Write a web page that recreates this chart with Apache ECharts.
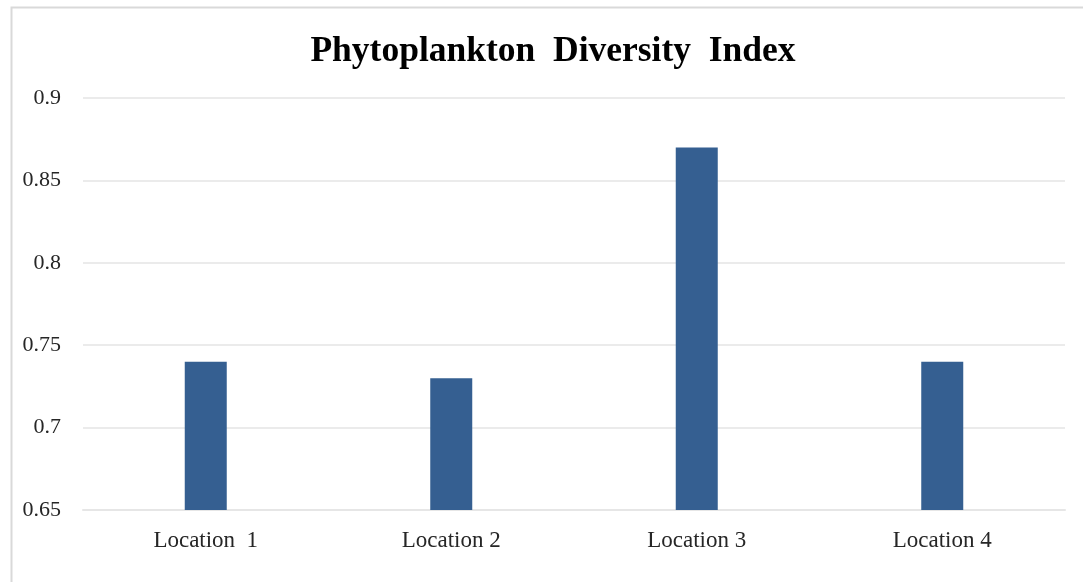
<!DOCTYPE html>
<html>
<head>
<meta charset="utf-8">
<script src="https://cdn.jsdelivr.net/npm/echarts@6/dist/echarts.min.js"></script>
<style>html,body{margin:0;padding:0;background:#fff;}#c{width:1083px;height:582px;}</style>
</head>
<body>
<div id="c"></div>
<script>
const categories = ['Location  1', 'Location 2', 'Location 3', 'Location 4'];
const diversityIndex = [0.74, 0.73, 0.87, 0.74];
const yMin = 0.65, yMax = 0.9, yStep = 0.05;

const chart = echarts.init(document.getElementById('c'), null, {renderer: 'canvas'});
chart.setOption({
  animation: false,
  backgroundColor: '#ffffff',
  title: {
    text: 'Phytoplankton  Diversity  Index',
    left: 548, top: 29, textAlign: 'center',
    textStyle: {fontFamily: 'Liberation Serif', fontWeight: 'bold', fontSize: 35.5, color: '#000'}
  },
  graphic: [{
    type: 'rect', left: 9, top: 5, silent: true,
    shape: {width: 1200, height: 700},
    style: {fill: 'none', stroke: '#d9d9d9', lineWidth: 2}
  }],
  grid: {left: 83, right: 18, top: 98, bottom: 72},
  xAxis: {
    type: 'category', data: categories,
    axisLine: {show: true, lineStyle: {color: '#e6e6e6', width: 2}},
    axisTick: {show: false},
    axisLabel: {margin: 19, fontFamily: 'Liberation Serif', fontSize: 23, color: '#262626'}
  },
  yAxis: {
    type: 'value', min: yMin, max: yMax, interval: yStep,
    axisLine: {show: false}, axisTick: {show: false},
    splitLine: {lineStyle: {color: '#ebebeb', width: 2}},
    axisLabel: {margin: 22, fontFamily: 'Liberation Serif', fontSize: 22, color: '#262626',
      formatter: v => String(parseFloat(v.toFixed(2)))}
  },
  series: [{
    type: 'bar', data: diversityIndex, barWidth: 42,
    itemStyle: {color: '#355f91'}
  }]
});
</script>
</body>
</html>
